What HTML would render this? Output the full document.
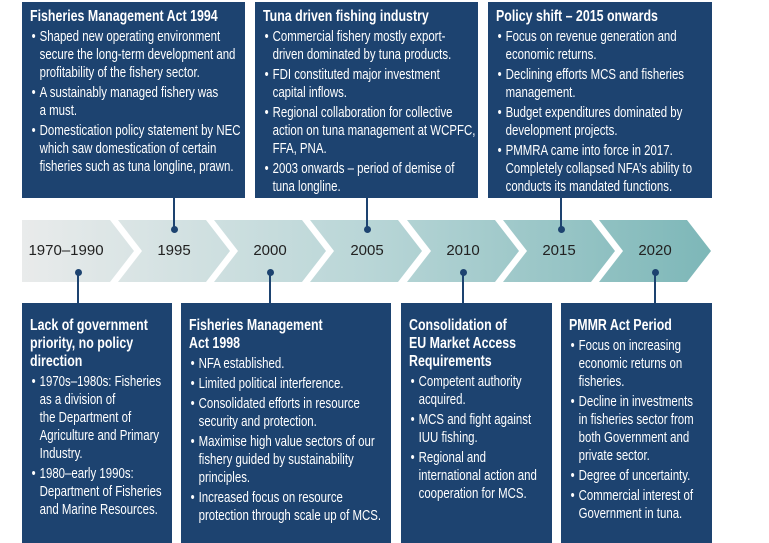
<!DOCTYPE html>
<html><head><meta charset="utf-8"><style>
body{margin:0;width:769px;height:533px;background:#fff;position:relative;overflow:hidden;font-family:"Liberation Sans",sans-serif}
.box{position:absolute;background:#1d4370;color:#fff;overflow:hidden}
.in{position:absolute;left:8px;top:6px;transform:scaleX(0.8);transform-origin:0 0;font-size:14.3px;line-height:18px;white-space:nowrap}
.t{font-weight:bold;font-size:15.5px;line-height:18px}
.b{padding-left:12px;text-indent:-10px;margin-top:2px}
.b:before{content:"•";display:inline-block;width:10px;text-indent:0}
.ln{position:absolute;width:2px;background:#1d4370}
.dot{position:absolute;width:7px;height:7px;border-radius:50%;background:#1d4370}
.yr{position:absolute;top:242px;font-size:15px;color:#222;transform:translateX(-50%);white-space:nowrap}
</style></head><body>
<svg width="769" height="533" style="position:absolute;left:0;top:0">
<defs><linearGradient id="g" gradientUnits="userSpaceOnUse" x1="22" y1="0" x2="711" y2="0"><stop offset="0" stop-color="#e9ebeb"/><stop offset="0.5" stop-color="#b9d6d7"/><stop offset="1" stop-color="#7db7b8"/></linearGradient></defs>
<g fill="url(#g)">
<polygon points="22,220 110,220 134,251 110,282 22,282"/>
<polygon points="118,220 206,220 230,251 206,282 118,282 142,251"/>
<polygon points="214,220 302,220 326,251 302,282 214,282 238,251"/>
<polygon points="310,220 398,220 422,251 398,282 310,282 334,251"/>
<polygon points="407,220 495,220 519,251 495,282 407,282 431,251"/>
<polygon points="503,220 591,220 615,251 591,282 503,282 527,251"/>
<polygon points="599,220 687,220 711,251 687,282 599,282 623,251"/>
</g></svg>
<div class="yr" style="left:66px">1970–1990</div>
<div class="yr" style="left:174px">1995</div>
<div class="yr" style="left:270px">2000</div>
<div class="yr" style="left:367px">2005</div>
<div class="yr" style="left:463px">2010</div>
<div class="yr" style="left:559px">2015</div>
<div class="yr" style="left:655px">2020</div>

<div class="ln" style="left:173px;top:198px;height:31px"></div><div class="dot" style="left:171px;top:226px"></div>
<div class="ln" style="left:366px;top:198px;height:31px"></div><div class="dot" style="left:364px;top:226px"></div>
<div class="ln" style="left:560px;top:198px;height:31px"></div><div class="dot" style="left:558px;top:226px"></div>
<div class="ln" style="left:77px;top:272px;height:31px"></div><div class="dot" style="left:75px;top:269px"></div>
<div class="ln" style="left:269px;top:272px;height:31px"></div><div class="dot" style="left:267px;top:269px"></div>
<div class="ln" style="left:462px;top:272px;height:31px"></div><div class="dot" style="left:460px;top:269px"></div>
<div class="ln" style="left:654px;top:272px;height:31px"></div><div class="dot" style="left:652px;top:269px"></div>

<div class="box" style="left:22px;top:2px;width:223px;height:196px"><div class="in">
<div class="t">Fisheries Management Act 1994</div>
<div class="b">Shaped new operating environment<br>secure the long-term development and<br>profitability of the fishery sector.</div>
<div class="b">A sustainably managed fishery was<br>a must.</div>
<div class="b">Domestication policy statement by NEC<br>which saw domestication of certain<br>fisheries such as tuna longline, prawn.</div>
</div></div>
<div class="box" style="left:255px;top:2px;width:223px;height:196px"><div class="in">
<div class="t">Tuna driven fishing industry</div>
<div class="b">Commercial fishery mostly export-<br>driven dominated by tuna products.</div>
<div class="b">FDI constituted major investment<br>capital inflows.</div>
<div class="b">Regional collaboration for collective<br>action on tuna management at WCPFC,<br>FFA, PNA.</div>
<div class="b">2003 onwards – period of demise of<br>tuna longline.</div>
</div></div>
<div class="box" style="left:488px;top:2px;width:224px;height:196px"><div class="in">
<div class="t">Policy shift – 2015 onwards</div>
<div class="b">Focus on revenue generation and<br>economic returns.</div>
<div class="b">Declining efforts MCS and fisheries<br>management.</div>
<div class="b">Budget expenditures dominated by<br>development projects.</div>
<div class="b">PMMRA came into force in 2017.<br>Completely collapsed NFA’s ability to<br>conducts its mandated functions.</div>
</div></div>

<div class="box" style="left:22px;top:303px;width:150px;height:240px"><div class="in" style="top:14px">
<div class="t">Lack of government<br>priority, no policy<br>direction</div>
<div class="b">1970s–1980s: Fisheries<br>as a division of<br>the Department of<br>Agriculture and Primary<br>Industry.</div>
<div class="b">1980–early 1990s:<br>Department of Fisheries<br>and Marine Resources.</div>
</div></div>
<div class="box" style="left:181px;top:303px;width:210px;height:240px"><div class="in" style="top:14px">
<div class="t">Fisheries Management<br>Act 1998</div>
<div class="b">NFA established.</div>
<div class="b">Limited political interference.</div>
<div class="b">Consolidated efforts in resource<br>security and protection.</div>
<div class="b">Maximise high value sectors of our<br>fishery guided by sustainability<br>principles.</div>
<div class="b">Increased focus on resource<br>protection through scale up of MCS.</div>
</div></div>
<div class="box" style="left:401px;top:303px;width:151px;height:240px"><div class="in" style="top:14px">
<div class="t">Consolidation of<br>EU Market Access<br>Requirements</div>
<div class="b">Competent authority<br>acquired.</div>
<div class="b">MCS and fight against<br>IUU fishing.</div>
<div class="b">Regional and<br>international action and<br>cooperation for MCS.</div>
</div></div>
<div class="box" style="left:561px;top:303px;width:151px;height:240px"><div class="in" style="top:14px">
<div class="t">PMMR Act Period</div>
<div class="b">Focus on increasing<br>economic returns on<br>fisheries.</div>
<div class="b">Decline in investments<br>in fisheries sector from<br>both Government and<br>private sector.</div>
<div class="b">Degree of uncertainty.</div>
<div class="b">Commercial interest of<br>Government in tuna.</div>
</div></div>
</body></html>
